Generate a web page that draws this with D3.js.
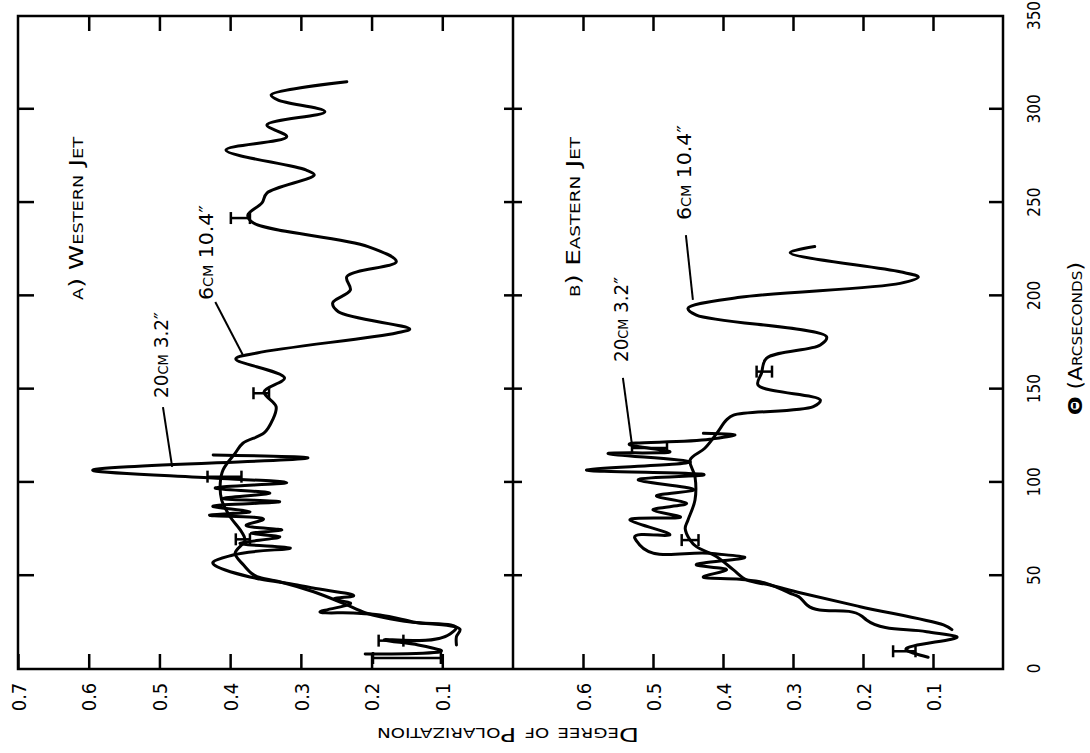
<!DOCTYPE html>
<html><head><meta charset="utf-8">
<script src="https://cdn.jsdelivr.net/npm/d3@7"></script>
<style>
body{margin:0;background:#fff}
text{font-family:"DejaVu Sans Condensed","DejaVu Sans",sans-serif;fill:#000}
</style>
</head><body>
<svg id="c" width="1090" height="753"></svg>
<script>
// ---- data (theta in arcseconds, degree of polarization) ----
const thetaTicks = [0, 50, 100, 150, 200, 250, 300, 350];
const thetaInner = [50, 100, 150, 200, 250, 300];
const polTicksA = [0.1, 0.2, 0.3, 0.4, 0.5, 0.6, 0.7];
const polTicksB = [0.1, 0.2, 0.3, 0.4, 0.5, 0.6];

const west6cm = [[12.9,0.080],[17.3,0.080],[21.3,0.075],[25.4,0.150],[29.9,0.207],[35.2,0.240],[41.4,0.282],[46.8,0.330],[49.5,0.362],[51.3,0.370],[55.7,0.381],[62.0,0.393],[69.1,0.379],[73.6,0.384],[81.6,0.400],[90.6,0.412],[99.5,0.414],[106.7,0.410],[115.6,0.393],[121.0,0.382],[126.5,0.352],[133.5,0.340],[140.6,0.335],[148.6,0.352],[156.0,0.323],[166.2,0.392],[169.4,0.362],[180.1,0.165],[182.2,0.146],[191.5,0.247],[196.2,0.255],[203.1,0.230],[210.3,0.235],[218.3,0.165],[226.4,0.205],[239.0,0.367],[243.3,0.375],[249.8,0.355],[255.1,0.348],[264.8,0.281],[267.5,0.293],[278.2,0.406],[285.3,0.320],[291.6,0.348],[298.7,0.266],[304.9,0.332],[307.7,0.342],[314.8,0.235]];

const west20cm = [[8.0,0.209],[10.2,0.103],[12.9,0.134],[15.5,0.181],[18.8,0.089],[20.9,0.082],[25.2,0.141],[28.9,0.188],[30.0,0.226],[30.6,0.273],[35.4,0.230],[37.5,0.253],[39.1,0.226],[43.4,0.283],[45.0,0.305],[48.2,0.358],[49.3,0.372],[57.4,0.424],[61.1,0.396],[64.9,0.315],[67.4,0.386],[70.9,0.330],[72.7,0.370],[74.5,0.327],[77.2,0.377],[79.9,0.354],[82.5,0.429],[84.3,0.372],[87.0,0.424],[89.7,0.330],[91.5,0.410],[94.2,0.344],[96.9,0.421],[99.9,0.320],[102.2,0.419],[106.3,0.593],[113.4,0.293],[114.7,0.424]];

const east6cm = [[21.1,0.073],[23.6,0.085],[33.4,0.204],[40.9,0.290],[45.0,0.333],[47.7,0.366],[53.1,0.385],[60.2,0.409],[65.6,0.438],[69.1,0.447],[75.4,0.454],[79.9,0.450],[90.6,0.440],[103.1,0.440],[112.0,0.447],[118.3,0.426],[126.3,0.409],[133.5,0.395],[136.1,0.385],[140.6,0.271],[144.2,0.261],[152.2,0.350],[158.5,0.345],[166.5,0.338],[173.7,0.261],[178.1,0.252],[189.7,0.438],[193.3,0.450],[199.2,0.376],[206.7,0.147],[210.1,0.121],[212.9,0.147],[223.1,0.304],[226.4,0.269]];

const east20cm = [[6.3,0.107],[10.2,0.138],[17.3,0.066],[20.0,0.109],[26.3,0.195],[28.4,0.202],[34.3,0.280],[38.8,0.292],[40.6,0.304],[45.9,0.338],[48.1,0.376],[49.5,0.428],[53.1,0.395],[55.7,0.438],[59.9,0.369],[62.0,0.419],[66.5,0.519],[70.1,0.526],[71.8,0.476],[79.9,0.533],[81.6,0.461],[85.2,0.500],[88.8,0.452],[92.7,0.495],[95.9,0.442],[101.3,0.521],[104.0,0.428],[106.7,0.595],[111.1,0.447],[115.6,0.564],[116.5,0.476],[120.1,0.533],[123.1,0.419],[125.4,0.383],[126.3,0.428]];

// error bars: [theta, low, high]
const westErr = [[5.9,0.102,0.198],[15.2,0.155,0.190],[69.5,0.372,0.392],[103.1,0.384,0.432],[147.8,0.345,0.367],[241.7,0.372,0.399]];
const eastErr = [[9.5,0.125,0.157],[69.1,0.435,0.459],[118.5,0.480,0.530],[159.4,0.330,0.352]];

// leader lines: [[theta,pol],[theta,pol]]
const westLeaders = [[[140.4,0.495],[108.3,0.482]], [[196.7,0.421],[168.3,0.382]]];
const eastLeaders = [[[156.0,0.543],[120.1,0.530]], [[232.6,0.453],[197.8,0.443]]];

// ---- drawing (chart drawn in its native orientation, then rotated -90deg) ----
const svg = d3.select('#c');
const g = svg.append('g').attr('transform','translate(0,753) rotate(-90)');

const x  = d3.scaleLinear().domain([0,350]).range([84,737]);
const yA = d3.scaleLinear().domain([0,0.7]).range([513,18]);
const yB = d3.scaleLinear().domain([0,0.7]).range([1003,513]);

const fmt = d3.format('.1f');

function styleAxis(sel){
  sel.select('.domain').remove();
  sel.selectAll('.tick line').attr('stroke','#000').attr('stroke-width',2.5);
}

// left (polarization) axes with labels
[[yA,polTicksA],[yB,polTicksB]].forEach(([y,tv])=>{
  const ax = g.append('g').attr('transform','translate(84,0)')
    .call(d3.axisLeft(y).tickValues(tv).tickSize(-15).tickFormat(fmt));
  styleAxis(ax);
  ax.selectAll('.tick text').attr('x',-28).attr('dy','0.36em')
    .attr('text-anchor','middle').style('font-size','20px').style('font-family','"DejaVu Sans Condensed","DejaVu Sans",sans-serif');
  const ar = g.append('g').attr('transform','translate(737,0)')
    .call(d3.axisRight(y).tickValues(polTicksB).tickSize(-15).tickFormat(''));
  styleAxis(ar);
});

// theta axis (bottom of native chart)
const bx = g.append('g').attr('transform','translate(0,1003)')
  .call(d3.axisBottom(x).tickValues(thetaTicks).tickSize(-14).tickFormat(d3.format('d')));
styleAxis(bx);
bx.selectAll('.tick text').attr('y',31).attr('dy','0.36em')
  .style('font-size','17px').style('font-family','"DejaVu Sans Condensed","DejaVu Sans",sans-serif');
bx.selectAll('.tick').filter(d=>d===0||d===350).select('line').remove();

// theta ticks at top and at divider
const tx = g.append('g').attr('transform','translate(0,18)')
  .call(d3.axisTop(x).tickValues(thetaInner).tickSize(-16).tickFormat(''));
styleAxis(tx);
[9,-9].forEach(s=>{
  const dv = g.append('g').attr('transform','translate(0,513)')
    .call(d3.axisBottom(x).tickValues(thetaInner).tickSize(s).tickFormat(''));
  styleAxis(dv);
});

// frame
g.append('rect').attr('x',x(0)).attr('y',yA(0.7)).attr('width',x(350)-x(0)).attr('height',yB(0)-yA(0.7))
  .attr('fill','none').attr('stroke','#000').attr('stroke-width',2.5);
g.append('line').attr('x1',x(0)).attr('x2',x(350)).attr('y1',yA(0)).attr('y2',yA(0))
  .attr('stroke','#000').attr('stroke-width',2.5);

// curves
function drawPanel(y, smooth, noisy, errs, leaders){
  const lineS = d3.line().x(d=>x(d[0])).y(d=>y(d[1])).curve(d3.curveCatmullRom.alpha(0.5));
  const lineN = d3.line().x(d=>x(d[0])).y(d=>y(d[1])).curve(d3.curveCatmullRom.alpha(1));
  g.append('path').attr('d',lineS(smooth)).attr('fill','none').attr('stroke','#000')
    .attr('stroke-width',3).attr('stroke-linejoin','round').attr('stroke-linecap','round');
  g.append('path').attr('d',lineN(noisy)).attr('fill','none').attr('stroke','#000')
    .attr('stroke-width',3).attr('stroke-linejoin','round').attr('stroke-linecap','round');
  errs.forEach(e=>{
    const eg = g.append('g').attr('stroke','#000').attr('stroke-width',2.5);
    eg.append('line').attr('x1',x(e[0])).attr('x2',x(e[0])).attr('y1',y(e[1])).attr('y2',y(e[2]));
    [e[1],e[2]].forEach(p=>eg.append('line').attr('x1',x(e[0])-6).attr('x2',x(e[0])+6).attr('y1',y(p)).attr('y2',y(p)));
  });
  leaders.forEach(l=>{
    g.append('line').attr('x1',x(l[0][0])).attr('y1',y(l[0][1])).attr('x2',x(l[1][0])).attr('y2',y(l[1][1]))
      .attr('stroke','#000').attr('stroke-width',2);
  });
}
drawPanel(yA, west6cm, west20cm, westErr, westLeaders);
drawPanel(yB, east6cm, east20cm, eastErr, eastLeaders);

// texts
function label(str, u, v, len, size, extra){
  const t = g.append('text').attr('x',u).attr('y',v).text(str)
    .style('font-size',size+'px').style('font-variant','small-caps');
  if(len) t.attr('textLength',len).attr('lengthAdjust','spacingAndGlyphs');
  if(extra) extra(t);
  return t;
}
label('a)  Western Jet', 453, 83, 163, 20);
label('b)  Eastern Jet', 456, 580, 160, 20);
label('6cm 10.4\u2033', 453, 213, 95, 20);
label('20cm 3.2\u2033', 355, 168, 86, 20);
label('6cm 10.4\u2033', 533, 691, 95, 20);
label('20cm 3.2\u2033', 391, 628, 85, 20);

// theta title
const tt = g.append('text').attr('x',338).attr('y',1082).style('font-size','20px').style('font-variant','small-caps')
  .attr('textLength',153).attr('lengthAdjust','spacingAndGlyphs');
tt.append('tspan').text('\u0398').style('font-weight','bold');
tt.append('tspan').text(' (Arcseconds)');

// polarization title (rotated in native chart)
g.append('text').attr('transform','translate(25,508) rotate(-90)').attr('text-anchor','middle')
  .style('font-size','20px').style('font-variant','small-caps')
  .attr('textLength',262).attr('lengthAdjust','spacingAndGlyphs')
  .text('Degree of Polarization');
</script>
</body></html>
